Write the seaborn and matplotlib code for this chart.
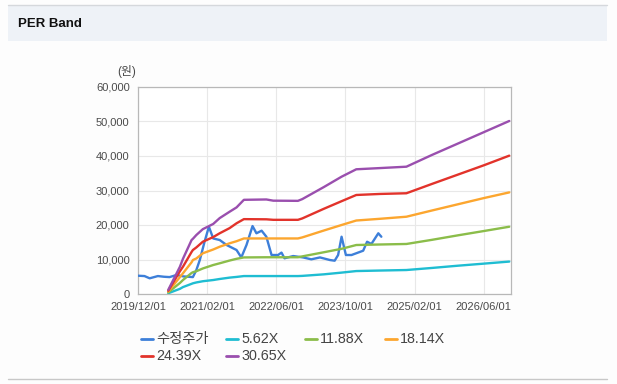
import matplotlib
matplotlib.use("Agg")
import matplotlib.pyplot as plt
from matplotlib.lines import Line2D
from matplotlib.patches import Rectangle
import seaborn as sns
import pandas as pd

# x = months since 2019/12/01
tick_months = [0, 16, 32, 48, 64, 80]
tick_labels = ['2019/12/01', '2021/02/01', '2022/06/01', '2023/10/01', '2025/02/01', '2026/06/01']

# 수정주가 (adjusted price)
price_m = [0, 1.5, 2.7, 4.6, 6, 7.3, 8.9, 10.5, 12.7, 13.5, 14.3, 15.4, 16.4, 17.4, 18.9, 20.5, 22.8, 23.9,
           25.1, 26.5, 27.4, 28.6, 29.7, 30.9, 32.4, 33.2, 33.9, 35.9, 38.2, 40.1, 42.1, 44.4, 45.5, 46.3,
           47.1, 48.1, 49.4, 52.1, 53.0, 54.0, 55.6, 56.3]
price_v = [5300, 5200, 4550, 5200, 5000, 4900, 5500, 5100, 4900, 6950, 9850, 15150, 19500, 16100, 15650,
           14200, 12750, 10600, 14200, 19700, 17600, 18350, 16600, 11300, 11300, 12000, 10350, 11000,
           10600, 10050, 10600, 9850, 9650, 11300, 16600, 11300, 11300, 12550, 15150, 14500, 17600, 16600]

# PER band lines
band_m = [7, 9.7, 10.4, 12.4, 12.7, 13.5, 15, 17.4, 18.9, 21.2, 22.8, 24.5, 29.7, 31.3, 37, 38, 43, 47.1,
          50.5, 56, 62.1, 68, 74, 80, 85.9]
band_names = ['5.62X', '11.88X', '18.14X', '24.39X', '30.65X']
band_530 = [220, 1500, 2000, 2950, 3100, 3350, 3700, 4050, 4350, 4750, 4950, 5200, 5200, 5200, 5200, 5250,
            5700, 6200, 6650, 6800, 6950, 7550, 8200, 8800, 9400]
band_1188 = [460, 3200, 4050, 6100, 6300, 6600, 7400, 8400, 8900, 9700, 10200, 10600, 10650, 10650, 10650,
             10900, 12100, 13100, 14200, 14350, 14500, 15700, 17000, 18250, 19500]
band_1814 = [700, 4900, 6000, 9200, 9850, 10300, 11800, 12900, 13700, 14700, 15300, 16100, 16100, 16100,
             16100, 16400, 18400, 20000, 21300, 21800, 22400, 24200, 26000, 27800, 29450]
band_2439 = [950, 6600, 7900, 12200, 12750, 13500, 15150, 16500, 17600, 19100, 20500, 21700, 21650, 21500,
             21500, 21900, 24700, 26900, 28700, 29000, 29200, 31900, 34600, 37300, 40100]
band_3065 = [1200, 7900, 10200, 15650, 16000, 17100, 18800, 20300, 22000, 23850, 25100, 27300, 27400, 27050,
             27000, 27500, 31000, 34000, 36150, 36500, 36900, 40300, 43600, 46900, 50150]
band_values = [band_530, band_1188, band_1814, band_2439, band_3065]

colors = ['#3d7fd9', '#1fbdd2', '#8bbd4a', '#fca62f', '#e2332b', '#9a4fae']

rows = [pd.DataFrame({'month': price_m, 'value': price_v, 'series': '수정주가'})]
for name, vals in zip(band_names, band_values):
    rows.append(pd.DataFrame({'month': band_m, 'value': vals, 'series': name}))
df = pd.concat(rows, ignore_index=True)

sns.set_style("white")
plt.rcParams['font.family'] = ['Liberation Sans', 'Noto Sans CJK KR', 'DejaVu Sans']

fig = plt.figure(figsize=(6.17, 3.84), dpi=100)
fig.patch.set_facecolor('#fdfdfd')

# header band
fig.add_artist(Rectangle((8 / 617, 1 - 41 / 384), 599 / 617, 36 / 384, transform=fig.transFigure,
                         facecolor='#eef2f7', edgecolor='none', zorder=0))
fig.add_artist(Line2D([8 / 617, 607 / 617], [1 - 5 / 384] * 2, transform=fig.transFigure,
                      color='#d5d8dc', lw=1))
fig.add_artist(Line2D([8 / 617, 607 / 617], [1 - 379 / 384] * 2, transform=fig.transFigure,
                      color='#c8c8c8', lw=1))
fig.text(18 / 617, 1 - 24 / 384, 'PER Band', fontsize=9.5, fontweight='bold', va='center', ha='left',
         color='#111111')

ax = fig.add_axes([138 / 617, 1 - 294 / 384, 373 / 617, 207 / 384])
ax.set_facecolor('white')
sns.lineplot(data=df, x='month', y='value', hue='series', palette=colors, linewidth=1.7,
             legend=False, ax=ax, zorder=3)

ax.set_xlim(0, 86.3)
ax.set_ylim(0, 60000)
ax.set_xticks(tick_months)
ax.set_xticklabels(tick_labels)
ax.set_yticks(range(0, 60001, 10000))
ax.set_yticklabels([f'{v:,}' for v in range(0, 60001, 10000)])
ax.grid(True, color='#e8e8e8', lw=0.8)
ax.set_axisbelow(True)
for s in ax.spines.values():
    s.set_color('#b8b8b8')
    s.set_linewidth(0.9)
ax.tick_params(axis='both', labelsize=8, colors='#4a4a4a', length=4, width=0.8, direction='out',
               pad=2)
ax.tick_params(axis='both', color='#b8b8b8')
ax.set_xlabel('')
ax.set_ylabel('')

fig.text(127 / 617, 1 - 72 / 384, '(원)', fontsize=8.5, color='#4a4a4a', ha='center', va='center')

# legend laid out like the reference (4 columns, 2 rows)
legend_names = ['수정주가'] + band_names
col_x = [141, 226, 305, 385]
row_y = [339, 356]
for i, (name, c) in enumerate(zip(legend_names, colors)):
    x0 = col_x[i % 4]
    y0 = row_y[i // 4]
    fig.add_artist(Line2D([x0 / 617, (x0 + 12) / 617], [1 - y0 / 384] * 2, transform=fig.transFigure,
                          color=c, lw=2))
    fig.text((x0 + 15) / 617, 1 - y0 / 384, name, fontsize=10.3, color='#444444', ha='left',
             va='center')

fig.savefig('out.png', dpi=100, facecolor=fig.get_facecolor())
